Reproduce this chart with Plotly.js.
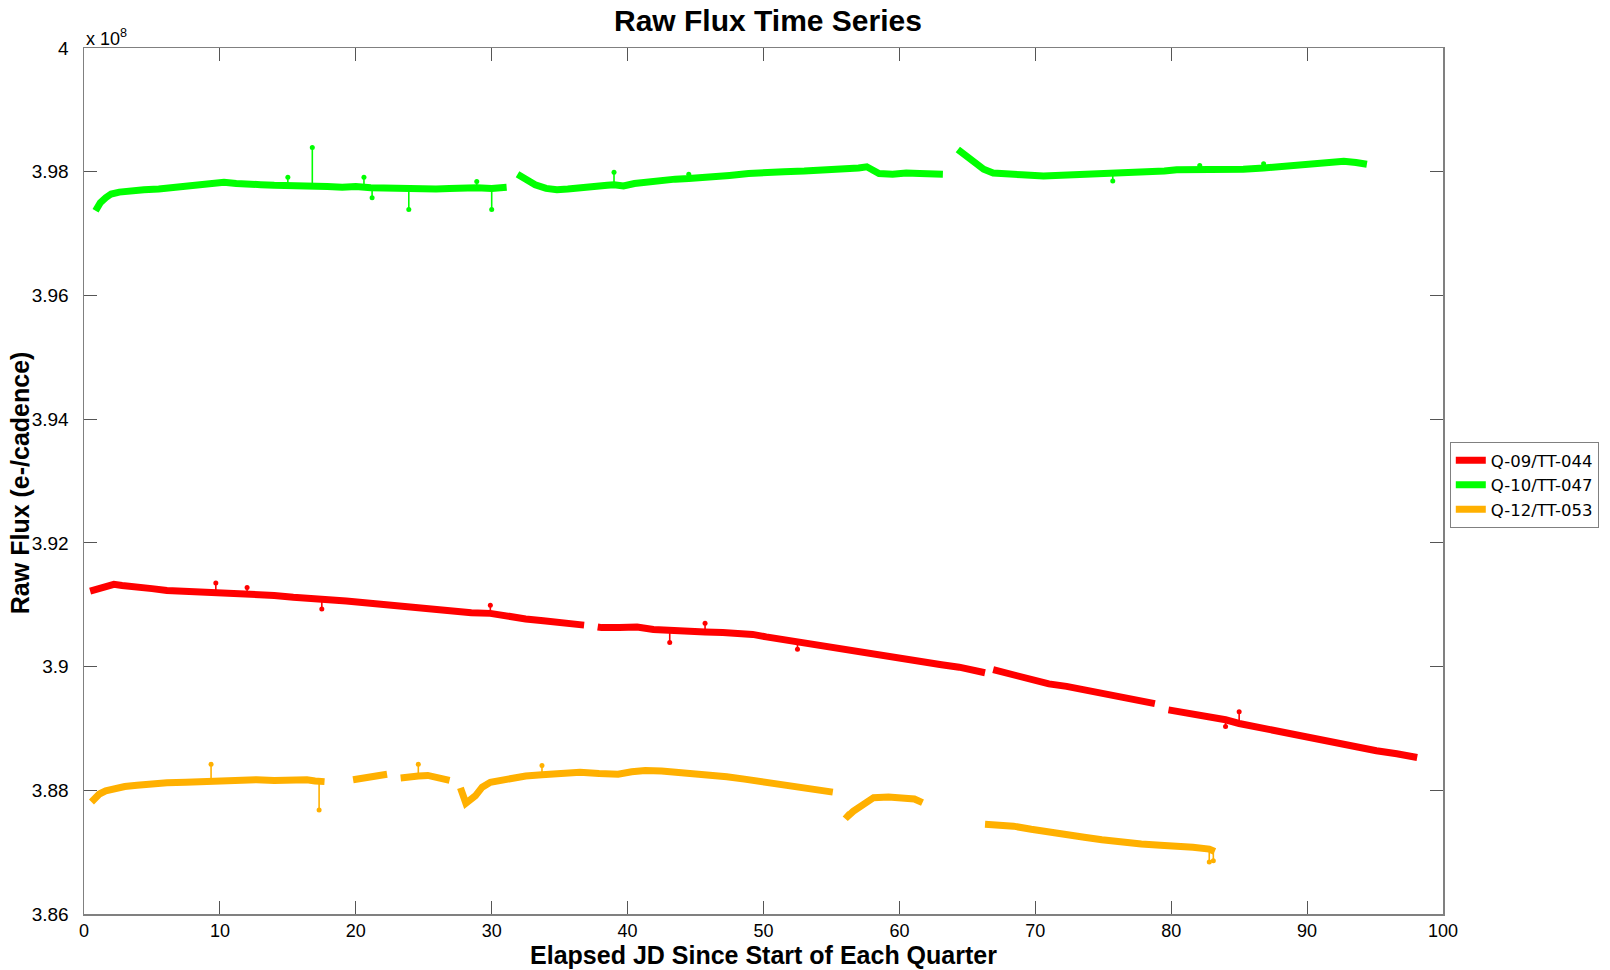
<!DOCTYPE html>
<html>
<head>
<meta charset="utf-8">
<script src="https://cdn.plot.ly/plotly-3.0.1.min.js"></script>
<style>html,body{margin:0;padding:0;background:#fff;}#chart{width:1610px;height:970px;}</style>
</head>
<body>
<div id="chart"></div>
<script>
// Flux values in units of 1e8 e-/cadence; null separates data gaps
var seriesNames = ["Q-09/TT-044", "Q-10/TT-047", "Q-12/TT-053"];
var seriesColors = ["#ff0000", "#00ff00", "#ffb000"];

var redX = [0.45,1.0,1.6,2.2,2.8,3.5,4.2,5.0,6.1,7.4,8.8,10.0,11.4,12.7,14.0,15.4,16.7,18.0,19.3,20.6,21.9,23.2,24.6,25.9,27.2,28.5,29.9,31.2,32.5,33.8,35.1,36.0,36.8,null,
  37.8,38.1,39.4,40.7,41.9,43.1,44.4,45.7,47.0,48.1,49.2,50.2,51.3,52.6,53.9,55.2,56.5,57.8,59.2,60.5,61.8,63.1,64.4,65.4,66.3,null,
  66.9,67.6,68.3,69.0,69.7,71.0,72.3,73.6,75.0,76.3,77.5,78.8,null,
  79.8,80.7,81.6,82.8,84.0,85.0,86.4,87.8,89.0,90.2,91.5,92.7,93.9,95.1,96.6,98.1];
var redY = [3.9122,3.9126,3.9130,3.9133,3.9131,3.9130,3.9128,3.9126,3.9123,3.9122,3.9120,3.9119,3.9117,3.9116,3.9115,3.9112,3.9109,3.9108,3.9106,3.9103,3.9100,3.9097,3.9094,3.9091,3.9088,3.9087,3.9086,3.9081,3.9077,3.9074,3.9071,3.9069,3.9067,null,
  3.9064,3.9063,3.9063,3.9064,3.9060,3.9058,3.9057,3.9056,3.9055,3.9054,3.9052,3.9048,3.9044,3.9039,3.9034,3.9030,3.9025,3.9021,3.9017,3.9012,3.9008,3.9003,3.8999,3.8995,3.8990,null,
  3.8995,3.8991,3.8986,3.8981,3.8977,3.8972,3.8968,3.8962,3.8956,3.8951,3.8945,3.8940,null,
  3.8930,3.8927,3.8923,3.8919,3.8914,3.8908,3.8902,3.8896,3.8889,3.8883,3.8878,3.8873,3.8868,3.8864,3.8859,3.8853];

var greenX = [0.85,1.2,1.6,2.0,2.6,3.3,4.4,5.5,6.6,7.7,8.8,9.6,10.3,11.2,12.1,13.0,14.0,15.0,15.9,16.8,17.9,19.0,20.0,21.1,22.1,23.0,23.9,24.9,25.9,26.9,27.9,28.9,30.0,30.6,31.1,null,
  31.9,32.5,33.2,34.0,34.8,35.6,36.6,37.6,38.5,39.0,39.7,40.5,41.5,42.5,43.5,44.5,45.5,46.4,47.5,48.9,50.0,51.5,53.0,54.5,56.0,57.0,57.6,58.0,58.5,59.5,60.5,61.5,62.5,63.2,null,
  64.3,64.8,65.6,66.2,66.9,67.8,69.0,70.6,72.0,73.5,74.5,75.5,76.5,78.0,79.5,80.4,82.1,83.5,85.3,86.8,88.0,89.2,90.3,91.5,92.7,93.6,94.4];
var greenY = [3.9737,3.9750,3.9758,3.9764,3.9767,3.9769,3.9771,3.9772,3.9774,3.9776,3.9779,3.9781,3.9783,3.9781,3.9779,3.9779,3.9778,3.9778,3.9777,3.9777,3.9776,3.9775,3.9776,3.9774,3.9773,3.9774,3.9773,3.9772,3.9772,3.9773,3.9774,3.9774,3.9773,3.9774,3.9775,null,
  3.9796,3.9787,3.9779,3.9773,3.9771,3.9772,3.9775,3.9777,3.9778,3.9779,3.9777,3.9781,3.9784,3.9786,3.9788,3.9789,3.9790,3.9791,3.9794,3.9797,3.9799,3.9800,3.9801,3.9802,3.9804,3.9806,3.9808,3.9804,3.9797,3.9796,3.9798,3.9797,3.9797,3.9796,null,
  3.9836,3.9828,3.9812,3.9804,3.9798,3.9796,3.9795,3.9793,3.9794,3.9795,3.9796,3.9797,3.9798,3.9800,3.9801,3.9803,3.9803,3.9803,3.9804,3.9806,3.9808,3.9810,3.9812,3.9815,3.9817,3.9815,3.9812];

var orangeX = [0.55,1.13,1.6,2.2,3.0,3.9,4.8,6.1,7.5,8.5,9.4,10.4,11.4,12.7,14.0,15.2,16.4,17.0,17.7,null,
  19.8,20.5,21.2,22.3,null,
  23.3,24.0,24.6,25.3,25.9,26.4,26.9,null,
  27.7,28.1,28.8,29.3,29.9,31.2,32.5,33.7,35.1,36.5,37.9,39.3,40.3,41.3,42.5,43.7,44.9,46.0,47.3,48.6,49.9,50.8,51.8,52.9,53.9,54.5,55.1,null,
  56.0,56.2,56.6,57.1,57.6,58.1,59.2,60.4,61.1,61.7,null,
  66.3,67.3,68.4,69.7,71.0,72.3,73.6,74.9,76.3,77.8,79.2,80.4,81.6,82.8,83.2];
var orangeY = [3.8781,3.8794,3.8799,3.8803,3.8806,3.8808,3.8810,3.8812,3.8813,3.8814,3.8815,3.8816,3.8817,3.8817,3.8816,3.8817,3.8817,3.8815,3.8814,null,
  3.8817,3.8820,3.8823,3.8826,null,
  3.8820,3.8823,3.8823,3.8824,3.8822,3.8820,3.8816,null,
  3.8804,3.8779,3.8791,3.8805,3.8813,3.8819,3.8823,3.8825,3.8827,3.8829,3.8827,3.8826,3.8830,3.8832,3.8831,3.8829,3.8828,3.8826,3.8822,3.8818,3.8814,3.8810,3.8806,3.8803,3.8800,3.8799,3.8797,null,
  3.8762,3.8758,3.8766,3.8774,3.8782,3.8788,3.8789,3.8788,3.8786,3.8780,null,
  3.8745,3.8744,3.8742,3.8737,3.8732,3.8728,3.8724,3.8720,3.8716,3.8713,3.8711,3.8710,3.8708,3.8705,3.8701];

// Outlier cadences (spikes): position, local level, spike value
var redSpikeX = [9.7,12.0,17.5,29.9,43.1,45.7,52.5,84.0,85.0];
var redSpikeBase = [3.9120,3.9118,3.9107,3.9086,3.9058,3.9056,3.9040,3.8914,3.8909];
var redSpikeTip = [3.9135,3.9128,3.9093,3.9099,3.9039,3.9070,3.9028,3.8903,3.8927];

var greenSpikeX = [15.0,16.8,20.6,21.2,23.9,28.9,30.0,39.0,44.5,75.7,82.1,86.8];
var greenSpikeBase = [3.9778,3.9777,3.9775,3.9774,3.9773,3.9774,3.9773,3.9779,3.9789,3.9797,3.9803,3.9806];
var greenSpikeTip = [3.9791,3.9839,3.9791,3.9758,3.9739,3.9784,3.9739,3.9799,3.9796,3.9785,3.9810,3.9813];

var orangeSpikeX = [9.35,17.3,24.6,33.7,82.8,83.1];
var orangeSpikeBase = [3.8815,3.8816,3.8823,3.8825,3.8704,3.8702];
var orangeSpikeTip = [3.8842,3.8768,3.8842,3.8840,3.8684,3.8686];

var xTickVals = [0,10,20,30,40,50,60,70,80,90,100];
var yTickVals = [3.86,3.88,3.9,3.92,3.94,3.96,3.98,4.0];
var yTickText = ["3.86","3.88","3.9","3.92","3.94","3.96","3.98","4"];

function spikeTrace(xs, base, tip, color) {
  var x = [], y = [], mx = [], my = [];
  for (var i = 0; i < xs.length; i++) {
    x.push(xs[i], xs[i], null);
    y.push(base[i], tip[i], null);
    mx.push(xs[i]); my.push(tip[i]);
  }
  return [
    {x: x, y: y, type: 'scatter', mode: 'lines', line: {color: color, width: 1.6}, showlegend: false, hoverinfo: 'skip'},
    {x: mx, y: my, type: 'scatter', mode: 'markers', marker: {color: color, size: 5}, showlegend: false, hoverinfo: 'skip'}
  ];
}

function mainTrace(x, y, i) {
  return {x: x, y: y, type: 'scatter', mode: 'lines', name: seriesNames[i],
    line: {color: seriesColors[i], width: 7}, connectgaps: false};
}

var data = [];
data = data.concat(spikeTrace(redSpikeX, redSpikeBase, redSpikeTip, seriesColors[0]));
data = data.concat(spikeTrace(greenSpikeX, greenSpikeBase, greenSpikeTip, seriesColors[1]));
data = data.concat(spikeTrace(orangeSpikeX, orangeSpikeBase, orangeSpikeTip, seriesColors[2]));
data.push(mainTrace(redX, redY, 0));
data.push(mainTrace(greenX, greenY, 1));
data.push(mainTrace(orangeX, orangeY, 2));

var fontFam = 'Liberation Sans, Arial, Helvetica, sans-serif';
var layout = {
  width: 1610, height: 970,
  paper_bgcolor: '#ffffff', plot_bgcolor: '#ffffff',
  margin: {l: 84, r: 167, t: 48, b: 56, pad: 0, autoexpand: false},
  font: {family: fontFam, size: 18, color: '#000'},
  title: {text: '<b>Raw Flux Time Series</b>', font: {family: fontFam, size: 30, color: '#000'},
    x: 0.477, xanchor: 'center', y: 0.979, yanchor: 'middle'},
  showlegend: true,
  legend: {x: 1.005, xanchor: 'left', y: 0.545, yanchor: 'top', bgcolor: '#fff',
    bordercolor: '#808080', borderwidth: 1, font: {family: 'DejaVu Sans, sans-serif', size: 16.5, color: '#000'},
    itemwidth: 30, tracegroupgap: 0},
  xaxis: {range: [0, 100], tickvals: xTickVals, ticks: 'inside', ticklen: 13, tickwidth: 1,
    tickcolor: '#555', showline: true, linecolor: '#808080', linewidth: 1.5, mirror: 'allticks',
    showgrid: false, zeroline: false, tickfont: {family: fontFam, size: 18, color: '#000'},
    title: {text: '<b>Elapsed JD Since Start of Each Quarter</b>', font: {family: fontFam, size: 25, color: '#000'}, standoff: 3}},
  yaxis: {range: [3.86, 4.0], tickvals: yTickVals, ticktext: yTickText, ticks: 'inside', ticklen: 13, tickwidth: 1,
    tickcolor: '#555', showline: true, linecolor: '#808080', linewidth: 1.5, mirror: 'allticks',
    showgrid: false, zeroline: false, tickfont: {family: fontFam, size: 19, color: '#000'},
    ticklabelstandoff: 10},
  annotations: [
    {xref: 'paper', yref: 'paper', x: 0, y: 1, xanchor: 'left', yanchor: 'bottom',
      text: 'x 10<sup>8</sup>', showarrow: false, font: {family: fontFam, size: 18, color: '#000'}, yshift: -3},
    {xref: 'paper', yref: 'paper', x: -0.0475, y: 0.498, xanchor: 'center', yanchor: 'middle', textangle: -90,
      text: '<b>Raw Flux (e-/cadence)</b>', showarrow: false, font: {family: fontFam, size: 25, color: '#000'}}
  ]
};

Plotly.newPlot('chart', data, layout, {displayModeBar: false, staticPlot: true});
</script>
</body>
</html>
